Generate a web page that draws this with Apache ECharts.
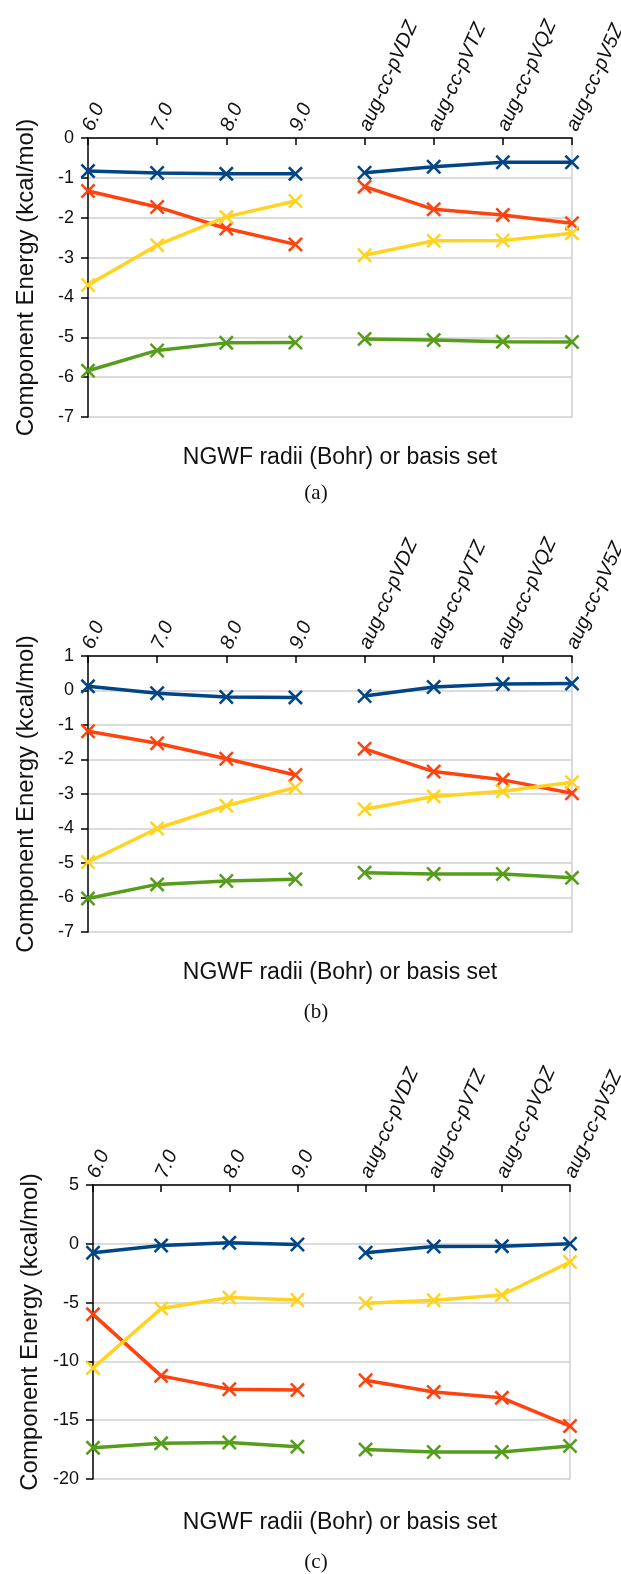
<!DOCTYPE html>
<html>
<head>
<meta charset="utf-8">
<script src="https://cdn.jsdelivr.net/npm/echarts@6/dist/echarts.min.js"></script>
<style>
  html, body { margin: 0; padding: 0; background: #fff; }
  #chart { width: 621px; height: 1574px; }
</style>
</head>
<body>
<div id="chart"></div>
<script>
// categories on the top axis
var categories = ['6.0', '7.0', '8.0', '9.0', 'aug-cc-pVDZ', 'aug-cc-pVTZ', 'aug-cc-pVQZ', 'aug-cc-pV5Z'];

// panel (a)
var aBlue   = [-0.83, -0.88, -0.90, -0.90, -0.87, -0.72, -0.61, -0.61];
var aRed    = [-1.33, -1.73, -2.27, -2.67, -1.22, -1.79, -1.93, -2.14];
var aYellow = [-3.69, -2.69, -1.98, -1.58, -2.94, -2.58, -2.57, -2.39];
var aGreen  = [-5.84, -5.33, -5.14, -5.13, -5.04, -5.07, -5.11, -5.12];

// panel (b)
var bBlue   = [0.12, -0.08, -0.19, -0.20, -0.16, 0.10, 0.19, 0.20];
var bRed    = [-1.18, -1.53, -1.98, -2.45, -1.69, -2.35, -2.59, -2.98];
var bYellow = [-4.97, -4.00, -3.34, -2.81, -3.44, -3.07, -2.92, -2.66];
var bGreen  = [-6.03, -5.62, -5.52, -5.47, -5.28, -5.32, -5.32, -5.43];

// panel (c)
var cBlue   = [-0.76, -0.14, 0.08, -0.06, -0.76, -0.23, -0.20, 0.00];
var cRed    = [-6.00, -11.23, -12.37, -12.43, -11.60, -12.60, -13.10, -15.50];
var cYellow = [-10.57, -5.51, -4.57, -4.78, -5.06, -4.80, -4.35, -1.55];
var cGreen  = [-17.35, -16.97, -16.90, -17.25, -17.50, -17.70, -17.70, -17.20];

// y axis ranges
var yMin = [-7, -7, -20];
var yMax = [0, 1, 5];
var yStep = [1, 1, 5];

var xName = 'NGWF radii (Bohr) or basis set';
var yName = 'Component Energy (kcal/mol)';
var captions = ['(a)', '(b)', '(c)'];

var colors = ['#004586', '#ff420e', '#ffd320', '#579d1c'];
var crossSymbol = 'path://M0,12L12,0L50,38L88,0L100,12L62,50L100,88L88,100L50,62L12,100L0,88L38,50Z';

var grids = [
  { left: 88, top: 138, width: 484, height: 279, outerBoundsMode: 'none' },
  { left: 88, top: 656, width: 484, height: 276, outerBoundsMode: 'none' },
  { left: 93, top: 1185, width: 477, height: 294, outerBoundsMode: 'none' }
];
var nameY = [458, 973, 1523];
var capY = [493, 1012, 1562];

var panels = [
  [aBlue, aRed, aYellow, aGreen],
  [bBlue, bRed, bYellow, bGreen],
  [cBlue, cRed, cYellow, cGreen]
];

var dom = document.getElementById('chart');
var myChart = echarts.init(dom);

var xAxes = [], yAxes = [], series = [], graphics = [];
for (var p = 0; p < 3; p++) {
  xAxes.push({
    gridIndex: p,
    type: 'category',
    position: 'top',
    data: categories,
    boundaryGap: false,
    axisLine: { onZero: false, lineStyle: { color: '#000', width: 1.5 } },
    axisTick: { inside: true, length: 7, lineStyle: { color: '#000', width: 1.5 } },
    axisLabel: {
      rotate: -66, margin: 8, interval: 0,
      fontFamily: 'Liberation Sans', fontStyle: 'italic', fontSize: 20, color: '#111'
    },
    splitLine: { show: false }
  });
  yAxes.push({
    gridIndex: p,
    type: 'value',
    min: yMin[p], max: yMax[p], interval: yStep[p],
    name: yName, nameLocation: 'middle', nameGap: 50,
    nameTextStyle: { fontFamily: 'Liberation Sans', fontSize: 24, color: '#111' },
    axisLine: { show: true, lineStyle: { color: '#000', width: 1.5 } },
    axisTick: { show: true, length: 7, lineStyle: { color: '#000', width: 1.5 } },
    axisLabel: { margin: 14, fontFamily: 'Liberation Sans', fontSize: 18, color: '#111' },
    splitLine: { lineStyle: { color: '#cfcfcf', width: 1.5 } }
  });
  // right border
  yAxes.push({
    gridIndex: p,
    type: 'value',
    position: 'right',
    min: yMin[p], max: yMax[p], interval: yStep[p],
    axisLine: { show: true, lineStyle: { color: '#cfcfcf', width: 1.5 } },
    axisTick: { show: false },
    axisLabel: { show: false },
    splitLine: { show: false }
  });
  for (var s = 0; s < 4; s++) {
    var vals = panels[p][s];
    var first = vals.slice(0, 4).concat([null, null, null, null]);
    var second = [null, null, null, null].concat(vals.slice(4));
    [first, second].forEach(function (d) {
      series.push({
        type: 'line',
        xAxisIndex: p,
        yAxisIndex: p * 2,
        data: d,
        connectNulls: false,
        symbol: crossSymbol,
        symbolSize: 15,
        showSymbol: true,
        lineStyle: { color: colors[s], width: 3.5 },
        itemStyle: { color: colors[s] },
        z: 2 + s
      });
    });
  }
  graphics.push({
    type: 'text',
    x: 340, y: nameY[p],
    style: {
      text: xName, fill: '#111', fontFamily: 'Liberation Sans', fontSize: 23,
      textAlign: 'center', textVerticalAlign: 'middle'
    }
  });
  graphics.push({
    type: 'text',
    x: 316, y: capY[p],
    style: {
      text: captions[p], fill: '#111', fontFamily: 'Liberation Serif', fontSize: 21,
      textAlign: 'center', textVerticalAlign: 'middle'
    }
  });
}

var option = {
  animation: false,
  grid: grids,
  xAxis: xAxes,
  yAxis: yAxes,
  series: series,
  graphic: graphics
};
myChart.setOption(option);
</script>
</body>
</html>
